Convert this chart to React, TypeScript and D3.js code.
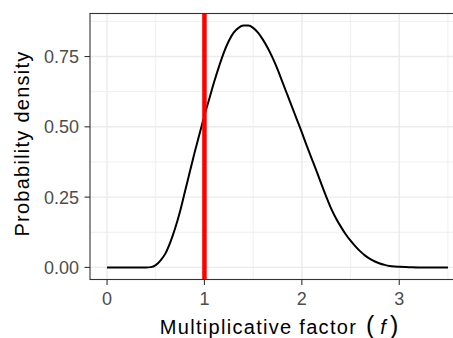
import React from 'react';
import * as d3 from 'd3';

// values
const factorValues = [
  0, 0.1, 0.2, 0.3, 0.4, 0.45, 0.5, 0.55, 0.6, 0.65, 0.7, 0.75, 0.8, 0.85, 0.9, 0.95,
  1.0, 1.05, 1.1, 1.15, 1.2, 1.25, 1.3, 1.35, 1.4, 1.45, 1.5, 1.55, 1.6, 1.65, 1.7, 1.75,
  1.8, 1.85, 1.9, 1.95, 2.0, 2.05, 2.1, 2.15, 2.2, 2.25, 2.3, 2.35, 2.4, 2.45, 2.5, 2.55,
  2.6, 2.65, 2.7, 2.75, 2.8, 2.85, 2.9, 2.95, 3.0, 3.1, 3.2, 3.35, 3.5,
];
const densityValues = [
  0, 0, 0, 0, 0, 0.001, 0.008, 0.025, 0.05, 0.09, 0.14, 0.2, 0.27, 0.34, 0.41, 0.475,
  0.54, 0.6, 0.66, 0.715, 0.765, 0.805, 0.835, 0.852, 0.86, 0.86, 0.852, 0.835, 0.81, 0.78, 0.745, 0.705,
  0.66, 0.615, 0.57, 0.525, 0.48, 0.433, 0.388, 0.343, 0.297, 0.252, 0.21, 0.175, 0.145, 0.118, 0.095, 0.075,
  0.057, 0.042, 0.03, 0.021, 0.014, 0.009, 0.005, 0.003, 0.002, 0.001, 0, 0, 0,
];
const xTicks = [0, 1, 2, 3];
const xMinor = [0.5, 1.5, 2.5, 3.5];
const yTicks = [0, 0.25, 0.5, 0.75];
const yMinor = [0.125, 0.375, 0.625, 0.875];
const markerFactor = 1;

const width = 453;
const height = 338;
const panel = { left: 90, right: 465, top: 13.5, bottom: 279.5 };
const font = '"Liberation Sans", Arial, Helvetica, sans-serif';

export default function App() {
  const points = factorValues.map((f, i) => ({ f, d: densityValues[i] }));

  const xExt = d3.extent(factorValues) as [number, number];
  const yMax = d3.max(densityValues) as number;
  const xPad = (xExt[1] - xExt[0]) * 0.05;
  const yPad = yMax * 0.05;

  const x = d3.scaleLinear().domain([xExt[0] - xPad, xExt[1] + xPad]).range([panel.left, panel.right]);
  const y = d3.scaleLinear().domain([-yPad, yMax + yPad]).range([panel.bottom, panel.top]);

  const line = d3.line<{ f: number; d: number }>()
    .x(p => x(p.f))
    .y(p => y(p.d))
    .curve(d3.curveMonotoneX);

  return (
    <svg
      width={width}
      height={height}
      style={{ position: 'absolute', left: 0, top: 0, background: '#fff' }}
      fontFamily={font}
    >
      <defs>
        <clipPath id="panel-clip">
          <rect x={panel.left} y={panel.top} width={panel.right - panel.left} height={panel.bottom - panel.top} />
        </clipPath>
      </defs>
      <rect x={panel.left} y={panel.top} width={panel.right - panel.left} height={panel.bottom - panel.top} fill="#fff" />
      <g clipPath="url(#panel-clip)">
        {yMinor.map(v => (
          <line key={'ym' + v} x1={panel.left} x2={panel.right} y1={y(v)} y2={y(v)} stroke="#EBEBEB" strokeWidth={0.8} />
        ))}
        {xMinor.map(v => (
          <line key={'xm' + v} x1={x(v)} x2={x(v)} y1={panel.top} y2={panel.bottom} stroke="#EBEBEB" strokeWidth={0.8} />
        ))}
        {yTicks.map(v => (
          <line key={'yg' + v} x1={panel.left} x2={panel.right} y1={y(v)} y2={y(v)} stroke="#EBEBEB" strokeWidth={1.4} />
        ))}
        {xTicks.map(v => (
          <line key={'xg' + v} x1={x(v)} x2={x(v)} y1={panel.top} y2={panel.bottom} stroke="#EBEBEB" strokeWidth={1.4} />
        ))}
        <path d={line(points) ?? ''} fill="none" stroke="#000" strokeWidth={2} />
        <line x1={x(markerFactor)} x2={x(markerFactor)} y1={panel.top} y2={panel.bottom} stroke="#FF0000" strokeWidth={4.5} />
      </g>
      <rect x={panel.left} y={panel.top} width={panel.right - panel.left} height={panel.bottom - panel.top} fill="none" stroke="#333" strokeWidth={1.1} />

      {yTicks.map(v => (
        <g key={'yt' + v}>
          <line x1={panel.left - 5.5} x2={panel.left} y1={y(v)} y2={y(v)} stroke="#333" strokeWidth={1.1} />
          <text x={panel.left - 11} y={y(v)} dy="0.36em" textAnchor="end" fontSize={18} fill="#4D4D4D">
            {d3.format('.2f')(v)}
          </text>
        </g>
      ))}
      {xTicks.map(v => (
        <g key={'xt' + v}>
          <line x1={x(v)} x2={x(v)} y1={panel.bottom} y2={panel.bottom + 5.5} stroke="#333" strokeWidth={1.1} />
          <text x={x(v)} y={305} textAnchor="middle" fontSize={18} fill="#4D4D4D">
            {v}
          </text>
        </g>
      ))}

      <text
        transform="translate(29, 143.5) rotate(-90)"
        textAnchor="middle"
        fontSize={20}
        letterSpacing={1.25}
        fill="#000"
      >
        Probability density
      </text>
      <text x={279} y={333.5} textAnchor="middle" fontSize={20} fill="#000">
        <tspan letterSpacing={1.3}>Multiplicative factor </tspan>
        <tspan fontSize={25} dx={2}>(</tspan>
        <tspan fontStyle="italic" dx={6}>f</tspan>
        <tspan fontSize={25} dx={4}>)</tspan>
      </text>
    </svg>
  );
}
